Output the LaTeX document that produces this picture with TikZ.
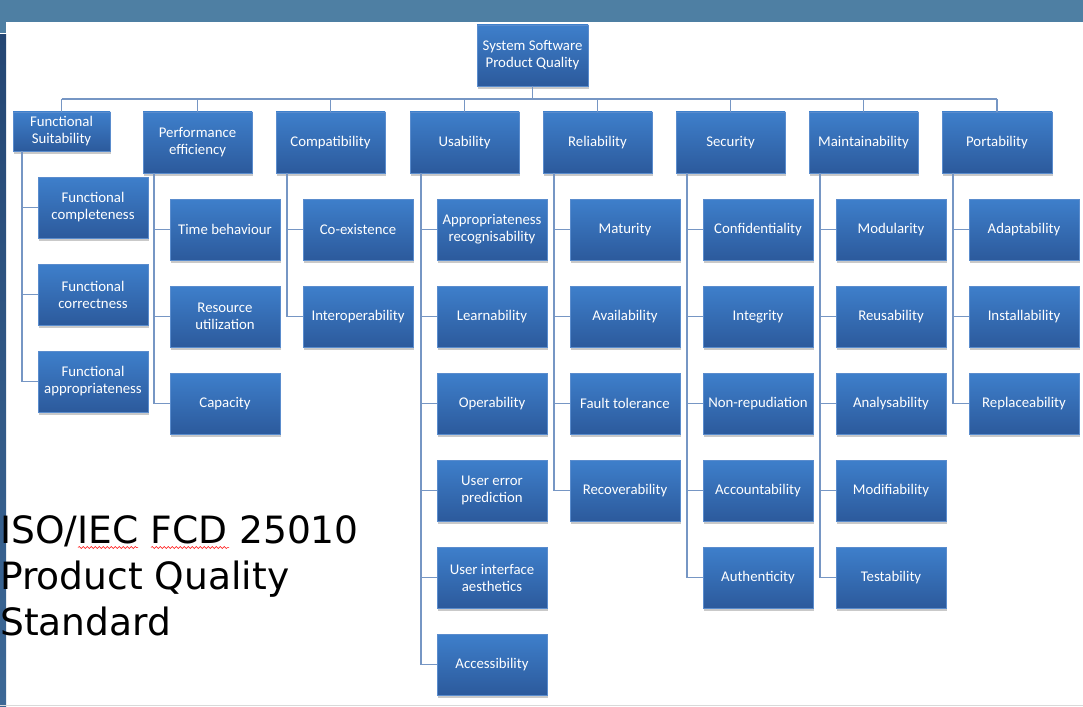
\documentclass[tikz,border=0pt]{standalone}
\usepackage{fontspec}
\setmainfont{Carlito}
\newfontfamily\dejavu{DejaVu Sans}
\usetikzlibrary{shadows,decorations.pathmorphing}
\definecolor{band}{RGB}{78,127,163}
\definecolor{boxtop}{RGB}{62,127,203}
\definecolor{boxbot}{RGB}{44,90,156}
\definecolor{boxedge}{RGB}{90,140,205}
\definecolor{wire}{RGB}{118,150,196}
\definecolor{stripdark}{RGB}{36,70,115}
\definecolor{stripmid}{RGB}{112,160,200}
\definecolor{stripbot}{RGB}{60,104,150}
\begin{document}
\begin{tikzpicture}[x=1pt,y=-1pt,
  qbox/.style={anchor=north west, inner sep=2pt, outer sep=0pt, minimum width=110pt, minimum height=61pt,
    align=center, top color=boxtop, bottom color=boxbot, draw=boxedge, line width=0.4pt,
    text=white, font=\fontsize{14.8}{17}\selectfont,
    drop shadow={shadow xshift=1pt, shadow yshift=-3pt, opacity=0.35, fill=black!60}},
  wireline/.style={draw=wire, line width=1.5pt},
  titletext/.style={anchor=base west, inner sep=0pt, font=\dejavu\fontsize{37.6}{46}\selectfont, text=black}
]
\useasboundingbox (0,0) rectangle (1083,706);
\fill[white] (0,0) rectangle (1083,706);
\fill[band] (0,0) rectangle (1083,22);
\fill[band] (0,22) rectangle (6,33);
\shade[top color=stripdark, middle color=stripmid, bottom color=stripbot] (0,35) rectangle (6,706);
\draw[black!15, line width=1pt] (0,705.5) -- (1083,705.5);

% title
\node[titletext] (t1) at (0,543) {ISO/IEC FCD 25010};
\node[titletext] (t2) at (0,589) {Product Quality};
\node[titletext] (t3) at (0,635) {Standard};
\draw[red, line width=0.5pt, decorate, decoration={snake, amplitude=1pt, segment length=4pt}] (78,547.5) -- (138,547.5);
\draw[red, line width=0.5pt, decorate, decoration={snake, amplitude=1pt, segment length=4pt}] (151,547.5) -- (229,547.5);

\coordinate (busy) at (0,99);

% root and level 1
\node[qbox, minimum width=111pt] (root) at (477,25) {System Software\\Product Quality};
\node[qbox, minimum width=97pt, minimum height=39pt] (fs) at (13,112) {Functional\\Suitability};
\node[qbox, minimum width=109pt] (pe) at (143,112) {Performance\\efficiency};
\node[qbox, minimum width=109pt] (co) at (276,112) {Compatibility};
\node[qbox, minimum width=109pt] (us) at (410,112) {Usability};
\node[qbox, minimum width=109pt] (re) at (543,112) {Reliability};
\node[qbox, minimum width=109pt] (se) at (676,112) {Security};
\node[qbox, minimum width=109pt] (ma) at (809,112) {Maintainability};
\node[qbox, minimum width=110pt] (po) at (942,112) {Portability};

% children
\node[qbox] (fs1) at (38,177) {Functional\\completeness};
\node[qbox] (fs2) at (38,264) {Functional\\correctness};
\node[qbox] (fs3) at (38,351) {Functional\\appropriateness};

\node[qbox] (pe1) at (170,199) {Time behaviour};
\node[qbox] (pe2) at (170,286) {Resource\\utilization};
\node[qbox] (pe3) at (170,373) {Capacity};

\node[qbox] (co1) at (303,199) {Co-existence};
\node[qbox] (co2) at (303,286) {Interoperability};

\node[qbox] (us1) at (437,199) {Appropriateness\\recognisability};
\node[qbox] (us2) at (437,286) {Learnability};
\node[qbox] (us3) at (437,373) {Operability};
\node[qbox] (us4) at (437,460) {User error\\prediction};
\node[qbox] (us5) at (437,547) {User interface\\aesthetics};
\node[qbox] (us6) at (437,634) {Accessibility};

\node[qbox] (re1) at (570,199) {Maturity};
\node[qbox] (re2) at (570,286) {Availability};
\node[qbox] (re3) at (570,373) {Fault tolerance};
\node[qbox] (re4) at (570,460) {Recoverability};

\node[qbox] (se1) at (703,199) {Confidentiality};
\node[qbox] (se2) at (703,286) {Integrity};
\node[qbox] (se3) at (703,373) {Non-repudiation};
\node[qbox] (se4) at (703,460) {Accountability};
\node[qbox] (se5) at (703,547) {Authenticity};

\node[qbox] (ma1) at (836,199) {Modularity};
\node[qbox] (ma2) at (836,286) {Reusability};
\node[qbox] (ma3) at (836,373) {Analysability};
\node[qbox] (ma4) at (836,460) {Modifiability};
\node[qbox] (ma5) at (836,547) {Testability};

\node[qbox] (po1) at (969,199) {Adaptability};
\node[qbox] (po2) at (969,286) {Installability};
\node[qbox] (po3) at (969,373) {Replaceability};

% bus
\draw[wireline] (fs.north |- busy) -- (po.north |- busy);
\draw[wireline] (root.south) -- (root.south |- busy);
\foreach \n in {fs,pe,co,us,re,se,ma,po}
  \draw[wireline] (\n.north) -- (\n.north |- busy);

% trunks
\coordinate (fsT) at ([xshift=9pt]fs.south west);
\coordinate (peT) at ([xshift=11pt]pe.south west);
\coordinate (coT) at ([xshift=11pt]co.south west);
\coordinate (usT) at ([xshift=11pt]us.south west);
\coordinate (reT) at ([xshift=11pt]re.south west);
\coordinate (seT) at ([xshift=11pt]se.south west);
\coordinate (maT) at ([xshift=11pt]ma.south west);
\coordinate (poT) at ([xshift=11pt]po.south west);

\draw[wireline] (fsT) |- (fs3.west);
\draw[wireline] (peT) |- (pe3.west);
\draw[wireline] (coT) |- (co2.west);
\draw[wireline] (usT) |- (us6.west);
\draw[wireline] (reT) |- (re4.west);
\draw[wireline] (seT) |- (se5.west);
\draw[wireline] (maT) |- (ma5.west);
\draw[wireline] (poT) |- (po3.west);

\foreach \c in {fs1,fs2} \draw[wireline] (fsT |- \c.west) -- (\c.west);
\foreach \c in {pe1,pe2} \draw[wireline] (peT |- \c.west) -- (\c.west);
\foreach \c in {co1} \draw[wireline] (coT |- \c.west) -- (\c.west);
\foreach \c in {us1,us2,us3,us4,us5} \draw[wireline] (usT |- \c.west) -- (\c.west);
\foreach \c in {re1,re2,re3} \draw[wireline] (reT |- \c.west) -- (\c.west);
\foreach \c in {se1,se2,se3,se4} \draw[wireline] (seT |- \c.west) -- (\c.west);
\foreach \c in {ma1,ma2,ma3,ma4} \draw[wireline] (maT |- \c.west) -- (\c.west);
\foreach \c in {po1,po2} \draw[wireline] (poT |- \c.west) -- (\c.west);
\end{tikzpicture}
\end{document}
